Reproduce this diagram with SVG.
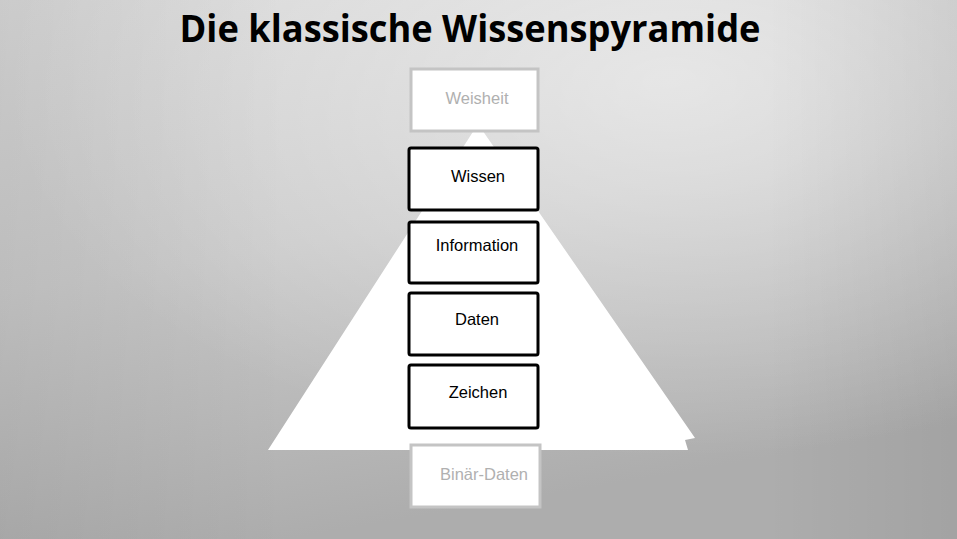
<svg xmlns="http://www.w3.org/2000/svg" width="957" height="539" viewBox="0 0 957 539">
<defs>
<linearGradient id="bg" x1="0" y1="0" x2="0.3" y2="1">
<stop offset="0" stop-color="#d8d8d8"/>
<stop offset="0.5" stop-color="#c8c8c8"/>
<stop offset="1" stop-color="#adadad"/>
</linearGradient>
<radialGradient id="hl" cx="0.7" cy="0.15" r="0.7">
<stop offset="0" stop-color="#ffffff" stop-opacity="0.5"/>
<stop offset="1" stop-color="#ffffff" stop-opacity="0"/>
</radialGradient>
<linearGradient id="side" x1="0" y1="0" x2="1" y2="0">
<stop offset="0" stop-color="#000" stop-opacity="0.06"/>
<stop offset="0.3" stop-color="#000" stop-opacity="0"/>
<stop offset="0.8" stop-color="#000" stop-opacity="0"/>
<stop offset="1" stop-color="#000" stop-opacity="0.06"/>
</linearGradient>
</defs>
<style>
.box{fill:#ffffff;stroke:#000000;stroke-width:3}
.pale{fill:#ffffff;stroke:#c4c4c4;stroke-width:3}
.lbl{font-family:"Liberation Sans",Arial,sans-serif;font-size:16.5px;fill:#000000;text-anchor:middle}
.plbl{font-family:"Liberation Sans",Arial,sans-serif;font-size:16.5px;fill:#b0b0b0;text-anchor:middle}
</style>
<rect x="0" y="0" width="957" height="539" fill="url(#bg)"/>
<rect x="0" y="0" width="957" height="539" fill="url(#hl)"/>
<rect x="0" y="0" width="957" height="539" fill="url(#side)"/>
<text x="470" y="42" font-family="'Open Sans','Liberation Sans',sans-serif" font-weight="bold" font-size="38" fill="#000" text-anchor="middle" textLength="581" lengthAdjust="spacingAndGlyphs">Die klassische Wissenspyramide</text>
<g id="pyramid">
<polygon points="478,124 695,438 685,440 688,450 268,450" fill="#ffffff"/>
</g>
<g id="connectors"></g>
<g id="weisheit">
<rect class="pale" x="411" y="69" width="127" height="62"/>
<text class="plbl" x="477" y="104">Weisheit</text>
</g>
<g id="wissen">
<rect class="box" x="409" y="148" width="129" height="62" rx="2"/>
<text class="lbl" x="478" y="182">Wissen</text>
</g>
<g id="information">
<rect class="box" x="409" y="222" width="129" height="61" rx="2"/>
<text class="lbl" x="477" y="251">Information</text>
</g>
<g id="daten">
<rect class="box" x="409" y="293" width="129" height="62" rx="2"/>
<text class="lbl" x="477" y="325">Daten</text>
</g>
<g id="zeichen">
<rect class="box" x="409" y="365" width="129" height="63" rx="2"/>
<text class="lbl" x="478" y="398">Zeichen</text>
</g>
<g id="binaer">
<rect class="pale" x="411" y="445" width="129" height="62"/>
<text class="plbl" x="484" y="480">Binär-Daten</text>
</g>
</svg>
